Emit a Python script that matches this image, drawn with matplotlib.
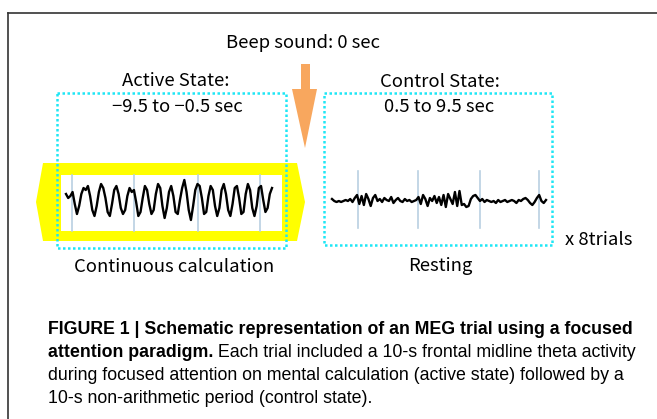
import numpy as np
import matplotlib
matplotlib.use("Agg")
import matplotlib.pyplot as plt
from matplotlib.patches import Polygon, Rectangle

# labels of the schematic
beep_label = "Beep sound: 0 sec"
active_label = ["Active State:", "\u22129.5 to \u22120.5 sec"]
control_label = ["Control State:", "0.5 to 9.5 sec"]
active_caption = "Continuous calculation"
control_caption = "Resting"
trials_label = "x 8trials"

caption_bold_1 = "FIGURE 1 | Schematic representation of an MEG trial using a focused"
caption_bold_2 = "attention paradigm."
caption_rest_2 = " Each trial included a 10-s frontal midline theta activity"
caption_3 = "during focused attention on mental calculation (active state) followed by a"
caption_4 = "10-s non-arithmetic period (control state)."

# traces (pixels above the baseline)
active_trace = [6, 2, 4, 8, -4, -14, -6, 6, 12, 10, 14, 4, -10, -16, -6, 8, 16, 12, 2, -12,
                -16, -4, 10, 14, 6, -8, -14, -10, 4, 12, 8, 10, -2, -16, -12, 2, 14, 10, -4, -14,
                -10, 6, 16, 12, -6, -18, -8, 8, 14, 4, -12, -14, 0, 12, 20, 8, -10, -20, -6, 10,
                16, 14, 2, -14, -12, 4, 14, 10, -6, -16, -8, 10, 16, 6, -10, -16, -4, 12, 14, 2,
                -14, -12, 6, 16, 10, -8, -16, -6, 12, 14, 0, -12, -8, 6, 12]
control_trace = [2, 0, -1, 0, -1, 0, 1, 0, 2, -1, 3, 6, -3, 5, -4, 7, 2, -5, 3, 6,
                 0, 2, -1, 3, 1, 0, 4, -2, 1, 3, 0, -1, 2, 0, 1, -1, 0, 1, 4, -3,
                 6, 2, -5, 3, 0, 5, -2, 4, -4, 6, -6, 7, 2, -3, 9, -5, 10, -4, -3, -6,
                 -5, 2, 5, 6, 3, 0, 2, -1, 1, 0, -1, 0, -2, 1, -1, 0, 1, -1, 0, 1,
                 0, -2, 1, 0, 2, 3, 1, -2, -4, -1, 3, 6, 0, -2, 1]

active_grid = [72, 134, 198, 260]
control_grid = [358, 418, 480, 539]

CYAN = "#1ee6f5"
YELLOW = "#ffff00"
ORANGE = "#f8a75e"
GRID = "#b9d0e2"

fig = plt.figure(figsize=(6.57, 4.19), dpi=100)
ax = fig.add_axes([0, 0, 1, 1])
ax.set_xlim(0, 657)
ax.set_ylim(419, 0)
ax.axis("off")

# frame
ax.plot([7.5, 657], [13.5, 13.5], color="#333333", lw=1.2)
ax.plot([7.5, 7.5], [13.5, 419], color="#333333", lw=1.2)

jp = ["Noto Sans CJK JP", "DejaVu Sans"]
fj = 13.3
ax.text(303, 43, beep_label, ha="center", va="center", fontsize=fj, family=jp)
ax.text(176, 81, active_label[0], ha="center", va="center", fontsize=fj, family=jp)
ax.text(177, 107, active_label[1], ha="center", va="center", fontsize=fj, family=jp)
ax.text(440, 82, control_label[0], ha="center", va="center", fontsize=fj, family=jp)
ax.text(439, 107, control_label[1], ha="center", va="center", fontsize=fj, family=jp)
ax.text(174, 267, active_caption, ha="center", va="center", fontsize=fj, family=jp)
ax.text(440, 266, control_caption, ha="center", va="center", fontsize=fj, family=jp)
ax.text(599, 240, trials_label, ha="center", va="center", fontsize=fj, family=jp)

# orange arrow (beep)
ax.add_patch(Polygon([(301, 64), (310, 64), (310, 89), (317, 89), (305, 148),
                      (292, 89), (301, 89)], closed=True, color=ORANGE, lw=0))

# yellow band around the active trace
ax.add_patch(Polygon([(36, 202), (43, 163), (297, 163), (305, 202), (297, 241), (43, 241)],
                     closed=True, color=YELLOW, lw=0, zorder=1))
ax.add_patch(Rectangle((61, 175), 221, 56, color="white", lw=0, zorder=1.5))

# grid lines behind the traces
for gx in active_grid:
    ax.plot([gx, gx], [175, 231], color=GRID, lw=1.2, zorder=2)
for gx in control_grid:
    ax.plot([gx, gx], [171, 228], color=GRID, lw=1.2, zorder=2)

xa = np.linspace(66, 272, len(active_trace))
ax.plot(xa, 200 - np.array(active_trace), color="black", lw=1.7, zorder=3)
xc = np.linspace(332, 546, len(control_trace))
ax.plot(xc, 201 - np.array(control_trace), color="black", lw=1.7, zorder=3)

# dotted cyan boxes
ax.add_patch(Rectangle((57, 93), 229, 155, fill=False, ec=CYAN, lw=1.8, ls=(0, (1, 1)), zorder=4))
ax.add_patch(Rectangle((324, 93), 228, 152, fill=False, ec=CYAN, lw=1.8, ls=(0, (1, 1)), zorder=4))

# caption
cap = ["Liberation Sans", "DejaVu Sans"]
fs = 12.8
ax.text(48, 329, caption_bold_1, ha="left", va="center", fontsize=fs, fontweight="bold", family=cap)
t2 = ax.text(48, 352, caption_bold_2, ha="left", va="center", fontsize=fs, fontweight="bold", family=cap)
fig.canvas.draw()
bb = t2.get_window_extent().transformed(ax.transData.inverted())
ax.text(bb.x1, 352, caption_rest_2, ha="left", va="center", fontsize=fs, family=cap)
ax.text(48, 375, caption_3, ha="left", va="center", fontsize=fs, family=cap)
ax.text(48, 398, caption_4, ha="left", va="center", fontsize=fs, family=cap)

fig.savefig("out.png", dpi=100)
